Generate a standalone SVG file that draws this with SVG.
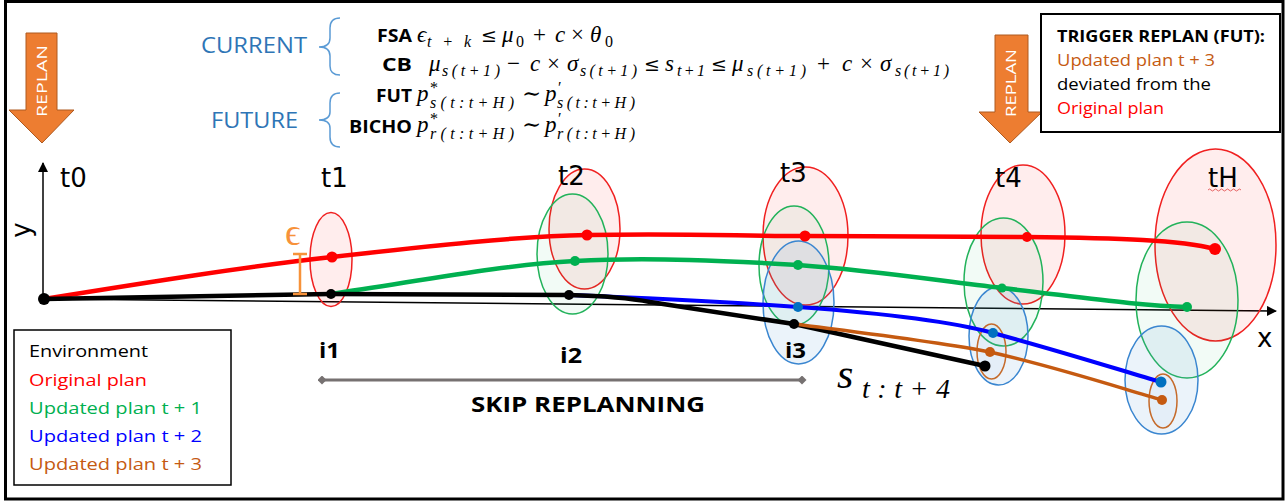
<svg xmlns="http://www.w3.org/2000/svg" width="1287" height="503" viewBox="0 0 1287 503">
<defs>
<style>
.sans{font-family:"Open Sans","DejaVu Sans",sans-serif;}
.bold{font-family:"Open Sans","DejaVu Sans",sans-serif;font-weight:bold;}
.tl{font-family:"DejaVu Sans","Open Sans",sans-serif;font-size:26px;fill:#000;}
.m{font-family:"Liberation Serif","DejaVu Serif",serif;font-style:italic;font-size:23px;fill:#000;}
.mn{font-family:"Liberation Serif","DejaVu Serif",serif;font-size:23px;fill:#000;}
.mo{font-family:"DejaVu Serif","Liberation Serif",serif;font-size:19px;fill:#000;}
.ms{font-family:"Liberation Serif","DejaVu Serif",serif;font-style:italic;font-size:16px;fill:#000;}
.msn{font-family:"Liberation Serif","DejaVu Serif",serif;font-size:16px;fill:#000;}
.er{fill:#FF0000;fill-opacity:0.07;stroke:#F02020;stroke-width:1.5;}
.eg{fill:#00B050;fill-opacity:0.05;stroke:#22B25A;stroke-width:1.5;}
.eb{fill:#5B9BD5;fill-opacity:0.12;stroke:#3A86D0;stroke-width:1.5;}
.eo{fill:#5B9BD5;fill-opacity:0.05;stroke:#C56A2A;stroke-width:1.5;}
.ln{fill:none;stroke-linecap:round;stroke-linejoin:round;}
.arrow{fill:#ED7D31;stroke:#AE5A21;stroke-width:1;}
.brace{fill:none;stroke:#5B9BD5;stroke-width:1.5;}
</style>
<marker id="ah" viewBox="0 0 10 10" refX="9" refY="5" markerWidth="10" markerHeight="10" markerUnits="userSpaceOnUse" orient="auto">
<path d="M0,0 L10,5 L0,10 z" fill="#000"/>
</marker>
<marker id="dia" viewBox="0 0 10 10" refX="5" refY="5" markerWidth="9" markerHeight="9" markerUnits="userSpaceOnUse" orient="auto">
<path d="M0,5 L5,0 L10,5 L5,10 z" fill="#767171"/>
</marker>
</defs>

<rect x="5.5" y="1.5" width="1277.5" height="497.5" fill="#fff" stroke="#000" stroke-width="3"/>

<g id="header">
<text class="sans" x="201" y="53" font-size="22" fill="#2E75B6" textLength="106" lengthAdjust="spacingAndGlyphs">CURRENT</text>
<path class="brace" d="M340,18 Q330,18 330,28 L330,38 Q330,47 319,47 Q330,47 330,56 L330,66 Q330,75 340,75"/>
<text class="sans" x="211" y="128" font-size="22" fill="#2E75B6" textLength="87" lengthAdjust="spacingAndGlyphs">FUTURE</text>
<path class="brace" d="M340,93 Q330,93 330,103 L330,112 Q330,120 319,120 Q330,120 330,128 L330,137 Q330,147 340,147"/>

<text class="bold" x="377" y="42" font-size="17" textLength="35" lengthAdjust="spacingAndGlyphs">FSA</text>
<text class="m" x="417" y="42">ϵ</text>
<text class="ms" x="427" y="47" textLength="44" lengthAdjust="spacing">t+k</text>
<text class="mo" x="481" y="42">≤</text>
<text class="m" x="502" y="42">μ</text>
<text class="msn" x="516" y="47">0</text>
<text class="mn" x="533" y="42">+</text>
<text class="m" x="555" y="42">c</text>
<text class="mn" x="571" y="42">×</text>
<text class="m" x="590" y="42">θ</text>
<text class="msn" x="605" y="47">0</text>

<text class="bold" x="382" y="71" font-size="17" textLength="30" lengthAdjust="spacingAndGlyphs">CB</text>
<text class="m" x="429" y="71">μ</text>
<text class="ms" x="442" y="76" textLength="58" lengthAdjust="spacing">s(t+1)</text>
<text class="mn" x="507" y="71">−</text>
<text class="m" x="530" y="71">c</text>
<text class="mn" x="547" y="71">×</text>
<text class="m" x="567" y="71">σ</text>
<text class="ms" x="580" y="76" textLength="57" lengthAdjust="spacing">s(t+1)</text>
<text class="mo" x="644" y="71">≤</text>
<text class="m" x="665" y="71">s</text>
<text class="ms" x="677" y="76" textLength="28" lengthAdjust="spacing">t+1</text>
<text class="mo" x="711" y="71">≤</text>
<text class="m" x="732" y="71">μ</text>
<text class="ms" x="747" y="76" textLength="59" lengthAdjust="spacing">s(t+1)</text>
<text class="mn" x="817" y="71">+</text>
<text class="m" x="842" y="71">c</text>
<text class="mn" x="860" y="71">×</text>
<text class="m" x="880" y="71">σ</text>
<text class="ms" x="895" y="76" textLength="54" lengthAdjust="spacing">s(t+1)</text>

<text class="bold" x="376" y="102" font-size="17" textLength="36" lengthAdjust="spacingAndGlyphs">FUT</text>
<text class="m" x="417" y="101">p</text>
<text class="msn" x="430" y="93">*</text>
<text class="ms" x="430" y="108" textLength="84" lengthAdjust="spacing">s(t:t+H)</text>
<text class="mn" x="522" y="101">∼</text>
<text class="m" x="545" y="101">p</text>
<text class="msn" x="558" y="93">′</text>
<text class="ms" x="557" y="108" textLength="78" lengthAdjust="spacing">s(t:t+H)</text>

<text class="bold" x="349" y="133" font-size="17" textLength="63" lengthAdjust="spacingAndGlyphs">BICHO</text>
<text class="m" x="417" y="132">p</text>
<text class="msn" x="430" y="124">*</text>
<text class="ms" x="430" y="139" textLength="84" lengthAdjust="spacing">r(t:t+H)</text>
<text class="mn" x="522" y="132">∼</text>
<text class="m" x="545" y="132">p</text>
<text class="msn" x="558" y="124">′</text>
<text class="ms" x="557" y="139" textLength="78" lengthAdjust="spacing">r(t:t+H)</text>
</g>

<g id="replan-left">
<polygon class="arrow" points="26,33 57,33 57,110 74,110 42,143 9,110 26,110"/>
<text class="sans" transform="translate(47,81) rotate(-90)" font-size="15" fill="#fff" text-anchor="middle" textLength="72" lengthAdjust="spacingAndGlyphs">REPLAN</text>
</g>
<g id="replan-right">
<polygon class="arrow" points="995,35 1028,35 1028,112 1042,112 1010,143 979,112 995,112"/>
<text class="sans" transform="translate(1016,83) rotate(-90)" font-size="15" fill="#fff" text-anchor="middle" textLength="68" lengthAdjust="spacingAndGlyphs">REPLAN</text>
</g>

<g id="trigger-box">
<rect x="1041" y="14" width="239" height="118" fill="#fff" stroke="#000" stroke-width="2"/>
<text class="bold" x="1057" y="42" font-size="16" textLength="208" lengthAdjust="spacingAndGlyphs">TRIGGER REPLAN (FUT):</text>
<text class="sans" x="1057" y="66" font-size="16" fill="#C55A11" textLength="158" lengthAdjust="spacingAndGlyphs">Updated plan t + 3</text>
<text class="sans" x="1057" y="90" font-size="16" fill="#000" textLength="154" lengthAdjust="spacingAndGlyphs">deviated from the</text>
<text class="sans" x="1057" y="114" font-size="16" fill="#FF0000" textLength="107" lengthAdjust="spacingAndGlyphs">Original plan</text>
</g>

<g id="axes">
<line x1="43" y1="299" x2="43" y2="163" stroke="#000" stroke-width="1.5" marker-end="url(#ah)"/>
<line x1="44" y1="299" x2="1276" y2="311" stroke="#000" stroke-width="1.5" marker-end="url(#ah)"/>
<text class="tl" transform="translate(30,230) rotate(-90)" text-anchor="middle">y</text>
<text class="tl" x="1257" y="347">x</text>
</g>

<g id="t0">
<text class="tl" x="60" y="187">t0</text>
</g>
<g id="t1">
<ellipse class="er" cx="331" cy="259.5" rx="21" ry="47"/>
<text class="tl" x="321" y="187">t1</text>
</g>
<g id="t2">
<ellipse class="er" cx="584.5" cy="229" rx="35.5" ry="60"/>
<ellipse class="eg" cx="572.5" cy="254" rx="35.5" ry="60"/>
<text class="tl" x="558" y="185">t2</text>
</g>
<g id="t3">
<ellipse class="er" cx="805.5" cy="236" rx="42.5" ry="69"/>
<ellipse class="eg" cx="794" cy="265.5" rx="35" ry="59.5"/>
<ellipse class="eb" cx="798.5" cy="302.5" rx="35.5" ry="61.5"/>
<text class="tl" x="780" y="182">t3</text>
</g>
<g id="t4">
<ellipse class="er" cx="1023" cy="234.5" rx="42" ry="69.5"/>
<ellipse class="eg" cx="1003.5" cy="282" rx="39.5" ry="64"/>
<ellipse class="eb" cx="998.5" cy="336" rx="29.5" ry="49"/>
<ellipse class="eo" cx="991.5" cy="351.5" rx="14.5" ry="27.5"/>
<text class="tl" x="995" y="187">t4</text>
</g>
<g id="tH">
<ellipse class="er" cx="1215.5" cy="245" rx="60.5" ry="96"/>
<ellipse class="eg" cx="1187" cy="300" rx="51" ry="78"/>
<ellipse class="eb" cx="1161.5" cy="380" rx="36.5" ry="54"/>
<ellipse class="eo" cx="1163" cy="401" rx="14" ry="27"/>
<text class="tl" x="1208" y="187">tH</text>
<path d="M1208,190 q1.5,-2 3,0 t3,0 t3,0 t3,0 t3,0 t3,0 t3,0 t3,0 t3,0 t3,0 t3,0" fill="none" stroke="#E04040" stroke-width="0.8"/>
</g>

<g id="connectors">
<path class="ln" stroke="#FF0000" stroke-width="4.5" d="M44,299 C150,282 250,266 332,257 C430,246 520,236 587,235 C680,233 740,236 805,236 C880,236 960,237 1027,237 C1120,238 1180,240 1215,249"/>
<path class="ln" stroke="#00B050" stroke-width="4.5" d="M331,294 C420,281 500,265 575,261 C650,257 730,261 798,265 C880,271 940,281 1002,288 C1080,297 1140,306 1187,307"/>
<path class="ln" stroke="#0000FF" stroke-width="4" d="M569,295 C650,298 730,302 798,307 C880,313 950,321 993,333 C1060,351 1120,370 1161,382"/>
<path class="ln" stroke="#000" stroke-width="4.5" d="M44,299 L331,294 L569,295 C610,296 630,298 650,302 L794,324 L985,366"/>
<path class="ln" stroke="#C55A11" stroke-width="3.5" d="M794,324 C880,335 940,342 990,352 C1060,368 1120,388 1162,400"/>
<line x1="322" y1="380" x2="802" y2="380" stroke="#767171" stroke-width="3" marker-start="url(#dia)" marker-end="url(#dia)"/>
</g>

<g id="dots">
<circle cx="44" cy="299" r="6" fill="#000"/>
<circle cx="332" cy="257" r="5.5" fill="#FF0000"/>
<circle cx="331" cy="294" r="5" fill="#000"/>
<circle cx="587" cy="235" r="5.5" fill="#FF0000"/>
<circle cx="575" cy="261" r="5" fill="#00B050"/>
<circle cx="569" cy="295" r="5" fill="#000"/>
<circle cx="805" cy="236" r="5.5" fill="#FF0000"/>
<circle cx="798" cy="265" r="5" fill="#00B050"/>
<circle cx="798" cy="307" r="5" fill="#0070C0"/>
<circle cx="794" cy="324" r="5" fill="#000"/>
<circle cx="1027" cy="237" r="5" fill="#FF0000"/>
<circle cx="1002" cy="288" r="4.5" fill="#00B050"/>
<circle cx="993" cy="333" r="5" fill="#0070C0"/>
<circle cx="990" cy="352" r="5" fill="#C55A11"/>
<circle cx="985" cy="366" r="5.5" fill="#000"/>
<circle cx="1215" cy="249" r="6" fill="#FF0000"/>
<circle cx="1187" cy="307" r="5" fill="#00B050"/>
<circle cx="1161" cy="382" r="5.5" fill="#0070C0"/>
<circle cx="1162" cy="400" r="5" fill="#C55A11"/>
</g>

<g id="epsilon">
<text x="285" y="245" font-family="Liberation Serif, DejaVu Serif, serif" font-size="38" fill="#F7923A">ϵ</text>
<path d="M300,254 L300,294 M293,254 L307,254 M293,294 L307,294" stroke="#F7923A" stroke-width="2.5" fill="none"/>
</g>

<g id="labels">
<text class="bold" x="319" y="358" font-size="21" textLength="21" lengthAdjust="spacingAndGlyphs">i1</text>
<text class="bold" x="560" y="363" font-size="21" textLength="22" lengthAdjust="spacingAndGlyphs">i2</text>
<text class="bold" x="785" y="358" font-size="21" textLength="21" lengthAdjust="spacingAndGlyphs">i3</text>
<text class="bold" x="471" y="412" font-size="21" textLength="234" lengthAdjust="spacingAndGlyphs">SKIP REPLANNING</text>
<text x="837" y="388" font-family="Liberation Serif, DejaVu Serif, serif" font-style="italic" font-size="42">s</text>
<text x="862" y="398" font-family="Liberation Serif, DejaVu Serif, serif" font-style="italic" font-size="28" textLength="88" lengthAdjust="spacing">t:t+4</text>
</g>

<g id="legend">
<rect x="14" y="330" width="217" height="155" fill="#fff" stroke="#000" stroke-width="1.5"/>
<text class="sans" x="29" y="357" font-size="17" fill="#000" textLength="119" lengthAdjust="spacingAndGlyphs">Environment</text>
<text class="sans" x="29" y="386" font-size="17" fill="#FF0000" textLength="118" lengthAdjust="spacingAndGlyphs">Original plan</text>
<text class="sans" x="29" y="414" font-size="17" fill="#00B050" textLength="173" lengthAdjust="spacingAndGlyphs">Updated plan t + 1</text>
<text class="sans" x="29" y="442" font-size="17" fill="#0000FF" textLength="173" lengthAdjust="spacingAndGlyphs">Updated plan t + 2</text>
<text class="sans" x="29" y="470" font-size="17" fill="#C55A11" textLength="173" lengthAdjust="spacingAndGlyphs">Updated plan t + 3</text>
</g>
</svg>
